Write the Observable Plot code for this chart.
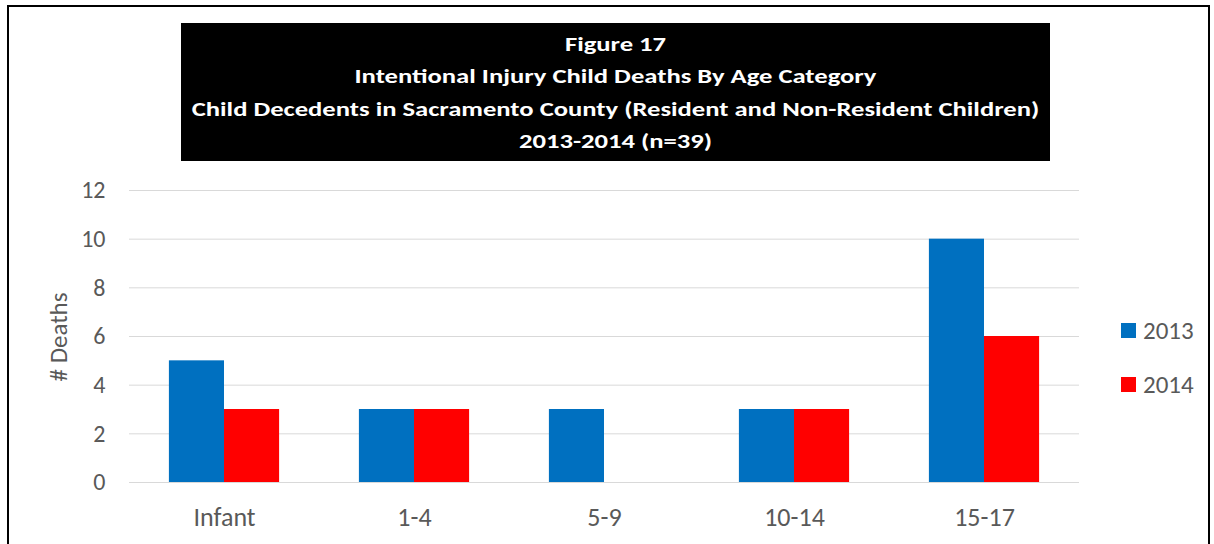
<!DOCTYPE html>
<html>
<head>
<meta charset="utf-8">
<script src="https://cdn.jsdelivr.net/npm/d3@7"></script>
<script src="https://cdn.jsdelivr.net/npm/@observablehq/plot@0.6"></script>
<style>
  html, body { margin: 0; padding: 0; background: #fff; }
  #wrap { position: relative; width: 1214px; height: 544px; overflow: hidden; font-family: Carlito, Lato, "Open Sans", sans-serif; }
  #frame { position: absolute; left: 7px; top: 5px; width: 1203px; height: 600px; border: 2px solid #000; box-sizing: border-box; }
  #title { position: absolute; left: 181px; top: 23px; width: 869px; height: 138px; background: #000; color: #fff;
           font-weight: bold; font-size: 20px; line-height: 32.3px; text-align: center; padding-top: 5px; box-sizing: border-box; }
  #title div { transform: scaleX(1.33); transform-origin: center; }
  #chart { position: absolute; left: 0; top: 0; }
  #legend { position: absolute; left: 1121px; top: 316px; font-size: 25px; color: #595959; }
  .li { display: flex; align-items: center; height: 29px; margin-bottom: 25px; }
  .sw { width: 15px; height: 15px; margin-right: 7px; }
  #ylabel { position: absolute; left: 58px; top: 337px; transform: translate(-50%, -50%) rotate(-90deg); font-size: 25px; color: #595959; white-space: nowrap; }
  #chart svg g[aria-label="y-axis tick label"] text { font-size: 24px !important; }
  #chart svg g[aria-label="x-axis tick label"] text { font-size: 26px !important; }
</style>
</head>
<body>
<div id="wrap">
  <div id="frame"></div>
  <div id="chart"></div>
  <div id="title"></div>
  <div id="legend"></div>
  <div id="ylabel"></div>
</div>
<script>
const titleLines = [
  "Figure 17",
  "Intentional Injury Child Deaths By Age Category",
  "Child Decedents in Sacramento County (Resident and Non-Resident Children)",
  "2013-2014 (n=39)"
];
const yLabel = "# Deaths";
const categories = ["Infant", "1-4", "5-9", "10-14", "15-17"];
const years = ["2013", "2014"];
const deaths2013 = [5, 3, 3, 3, 10];
const deaths2014 = [3, 3, 0, 3, 6];
const yTicks = [0, 2, 4, 6, 8, 10, 12];
const colors = ["#0070C0", "#FF0000"];

document.getElementById("title").innerHTML = titleLines.map(t => `<div>${t}</div>`).join("");
document.getElementById("ylabel").textContent = yLabel;
document.getElementById("legend").innerHTML = years.map((y, i) =>
  `<div class="li"><div class="sw" style="background:${colors[i]}"></div><span>${y}</span></div>`).join("");

const rows = [];
categories.forEach((c, i) => {
  rows.push({cat: c, year: years[0], v: deaths2013[i]});
  rows.push({cat: c, year: years[1], v: deaths2014[i]});
});

const W = 1214, H = 544, mL = 129, mR = 135;
const padIn = 0.42;
const bandW = (W - mL - mR) / categories.length * (1 - padIn);

const chart = Plot.plot({
  width: W,
  height: H,
  marginTop: 190,
  marginBottom: 62,
  marginLeft: mL,
  marginRight: mR,
  style: {fontFamily: 'Carlito, Lato, "Open Sans", sans-serif', background: "transparent", color: "#595959", fontSize: "20px"},
  x: {domain: categories, paddingInner: padIn, paddingOuter: padIn / 2, round: false, label: null, tickSize: 0, tickPadding: 25},
  y: {domain: [0, 12], ticks: yTicks, label: null, tickSize: 0, tickPadding: 24},
  color: {domain: years, range: colors},
  marks: [
    Plot.ruleY(yTicks, {stroke: "#d9d9d9", strokeWidth: 1}),
    Plot.barY(rows.filter(d => d.year === years[0]), {x: "cat", y: "v", fill: d => d.year, insetRight: bandW / 2}),
    Plot.barY(rows.filter(d => d.year === years[1]), {x: "cat", y: "v", fill: d => d.year, insetLeft: bandW / 2}),
    Plot.ruleY([0], {stroke: "#d9d9d9"})
  ]
});
document.getElementById("chart").appendChild(chart);
</script>
</body>
</html>
